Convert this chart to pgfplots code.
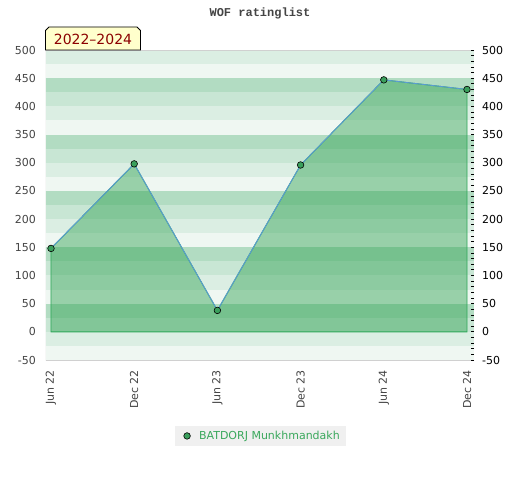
\documentclass[border=0pt]{standalone}
\usepackage{pgfplots}
\pgfplotsset{compat=1.18}
\usepackage{fontspec}
\setmainfont{DejaVu Sans}
\newfontfamily\titlefont{Liberation Mono}
\definecolor{cA}{HTML}{DBEEE3}
\definecolor{cB}{HTML}{EFF7F2}
\definecolor{cC}{HTML}{B2DCC2}
\definecolor{cD}{HTML}{C8E6D4}
\definecolor{areagreen}{HTML}{279E4B}
\definecolor{edgegreen}{HTML}{2FA85A}
\definecolor{linetop}{HTML}{5B9BD5}
\definecolor{mk}{HTML}{3A9F5C}
\definecolor{axgrey}{HTML}{D0D0D0}
\definecolor{lblgrey}{HTML}{444444}
\definecolor{boxyellow}{HTML}{FFFFCC}
\definecolor{boxred}{HTML}{8B0000}
\definecolor{leggrey}{HTML}{F0F0F0}
\definecolor{legtext}{HTML}{3AA85C}
\begin{document}
\begin{tikzpicture}[x=1pt,y=1pt]
\useasboundingbox (0,0) rectangle (520,480);
\begin{axis}[
  at={(46pt,120pt)}, anchor=south west,
  width=428pt, height=310pt, scale only axis,
  xmin=-0.06, xmax=5.084, ymin=-50, ymax=500,
  xtick={0,1,2,3,4,5},
  xticklabels={Jun 22,Dec 22,Jun 23,Dec 23,Jun 24,Dec 24},
  ytick={-50,0,50,100,150,200,250,300,350,400,450,500},
  ytick pos=left, xtick pos=bottom,
  major tick length=0pt, minor tick length=0pt,
  axis line style={draw=none},
  /pgf/number format/assume math mode=true,
  tick label style={font=\fontsize{11}{13}\selectfont, text=lblgrey},
  yticklabel style={inner sep=0pt, anchor=east, xshift=-10pt},
  xticklabel style={inner sep=0pt, rotate=90, anchor=east},
  xticklabel shift=10pt,
  legend style={at={(0.501,-0.245)}, anchor=center, fill=leggrey, draw=none,
    font=\fontsize{11}{13}\selectfont, text=legtext, inner xsep=4pt, inner ysep=3.5pt},
  legend cell align=left,
  legend image code/.code={\path[draw=none, fill=none] (-8pt,-3pt) rectangle (10pt,3pt);
    \draw[#1] plot coordinates {(0pt,0pt)};},
]
\fill[cA] (axis cs:-1,500) rectangle (axis cs:6,475);
\fill[cB] (axis cs:-1,475) rectangle (axis cs:6,450);
\fill[cC] (axis cs:-1,450) rectangle (axis cs:6,425);
\fill[cD] (axis cs:-1,425) rectangle (axis cs:6,400);
\fill[cA] (axis cs:-1,400) rectangle (axis cs:6,375);
\fill[cB] (axis cs:-1,375) rectangle (axis cs:6,350);
\fill[cC] (axis cs:-1,350) rectangle (axis cs:6,325);
\fill[cD] (axis cs:-1,325) rectangle (axis cs:6,300);
\fill[cA] (axis cs:-1,300) rectangle (axis cs:6,275);
\fill[cB] (axis cs:-1,275) rectangle (axis cs:6,250);
\fill[cC] (axis cs:-1,250) rectangle (axis cs:6,225);
\fill[cD] (axis cs:-1,225) rectangle (axis cs:6,200);
\fill[cA] (axis cs:-1,200) rectangle (axis cs:6,175);
\fill[cB] (axis cs:-1,175) rectangle (axis cs:6,150);
\fill[cC] (axis cs:-1,150) rectangle (axis cs:6,125);
\fill[cD] (axis cs:-1,125) rectangle (axis cs:6,100);
\fill[cA] (axis cs:-1,100) rectangle (axis cs:6,75);
\fill[cB] (axis cs:-1,75) rectangle (axis cs:6,50);
\fill[cC] (axis cs:-1,50) rectangle (axis cs:6,25);
\fill[cD] (axis cs:-1,25) rectangle (axis cs:6,0);
\fill[cA] (axis cs:-1,0) rectangle (axis cs:6,-25);
\fill[cB] (axis cs:-1,-25) rectangle (axis cs:6,-50);
\draw[axgrey, line width=1pt] (rel axis cs:1,1) -- (rel axis cs:0,1) -- (rel axis cs:0,0) -- (rel axis cs:1,0);
\addplot[draw=edgegreen, draw opacity=1, line width=0.9pt, fill=areagreen, fill opacity=0.43, forget plot]
  coordinates {(0,0) (0,148) (1,298) (2,38) (3,296) (4,447) (5,430) (5,0)} -- cycle;
\addplot[draw=linetop, line width=0.9pt, forget plot]
  coordinates {(0,148) (1,298) (2,38) (3,296) (4,447) (5,430)};
\addplot[only marks, mark=*, mark size=3.3pt, mark options={fill=mk, draw=black, line width=0.6pt}]
  coordinates {(0,148) (1,298) (2,38) (3,296) (4,447) (5,430)};
\addlegendentry{BATDORJ Munkhmandakh}
\end{axis}
\begin{axis}[
  at={(46pt,120pt)}, anchor=south west,
  width=428pt, height=310pt, scale only axis,
  xmin=-0.06, xmax=5.084, ymin=-50, ymax=500,
  hide x axis,
  y axis line style={draw=none},
  ytick={-50,0,50,100,150,200,250,300,350,400,450,500},
  minor y tick num=4,
  ytick pos=right, yticklabel pos=right,
  tick align=inside,
  major tick length=3pt, minor tick length=3pt,
  tick style={black, line width=0.8pt},
  /pgf/number format/assume math mode=true,
  tick label style={font=\fontsize{11}{13}\selectfont, text=black},
  yticklabel style={inner sep=0pt, anchor=west, xshift=8pt},
]
\end{axis}
\node[font=\titlefont\bfseries\fontsize{12}{14}\selectfont, text=lblgrey] at (260,467) {WOF ratinglist};
\filldraw[fill=boxyellow, draw=black, line width=0.8pt]
  (45.5,430) -- (45.5,449.5) -- (49,453) -- (137,453) -- (140.5,449.5) -- (140.5,430) -- cycle;
\node[font=\fontsize{14}{16}\selectfont, text=boxred] at (93,440.5) {2022\textendash2024};
\end{tikzpicture}
\end{document}
